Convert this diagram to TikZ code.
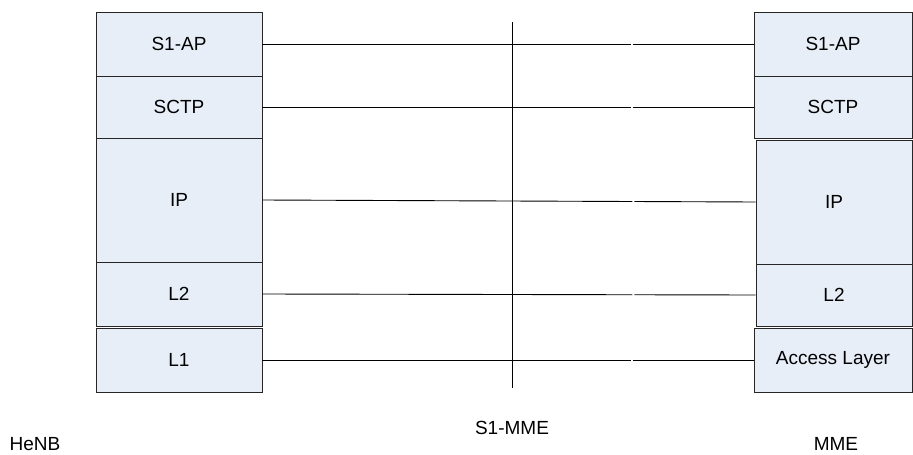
\documentclass[tikz,border=0pt]{standalone}
\usepackage{fontspec}
\setmainfont{Liberation Sans}
\usetikzlibrary{calc}
\definecolor{layerfill}{HTML}{E8EEF8}
\tikzset{
  layer/.style={draw=black!85,fill=layerfill,line width=0.9pt,inner sep=0pt,
    font=\fontsize{19}{22}\selectfont},
  peer/.style={line width=0.9pt},
  side/.style={font=\fontsize{19}{22}\selectfont}
}
\begin{document}
\begin{tikzpicture}[x=1pt,y=-1pt]
   \useasboundingbox (0,0) rectangle (913,455);
   % HeNB stack
   \node[layer,minimum width=166pt,minimum height=64pt] (lap) at (179,44) {S1-AP};
   \node[layer,minimum width=166pt,minimum height=62pt] (lsctp) at (179,107) {SCTP};
   \node[layer,minimum width=166pt,minimum height=124pt] (lip) at (179,200) {IP};
   \node[layer,minimum width=166pt,minimum height=64pt] (ll2) at (179,294) {L2};
   \node[layer,minimum width=166pt,minimum height=64pt] (ll1) at (179,360) {L1};
   % MME stack
   \node[layer,minimum width=158pt,minimum height=64pt] (rap) at (833,44) {S1-AP};
   \node[layer,minimum width=158pt,minimum height=62pt] (rsctp) at (833,107) {SCTP};
   \node[layer,minimum width=156pt,minimum height=124pt] (rip) at (834,202) {IP};
   \node[layer,minimum width=156pt,minimum height=62pt] (rl2) at (834,295) {L2};
   \node[layer,minimum width=158pt,minimum height=64pt] (racc) at (833,360) {Access Layer};
   % peer lines
   \draw[peer] (lap.east) -- ($(lap.east)!.75!(rap.west)$)
      ($(lap.east)!.754!(rap.west)$) -- (rap.west);
   \draw[peer] (lsctp.east) -- ($(lsctp.east)!.75!(rsctp.west)$)
      ($(lsctp.east)!.754!(rsctp.west)$) -- (rsctp.west);
   \draw[peer] (lip.east) -- ($(lip.east)!.75!(rip.west)$)
      ($(lip.east)!.754!(rip.west)$) -- (rip.west);
   \draw[peer] (ll2.east) -- ($(ll2.east)!.75!(rl2.west)$)
      ($(ll2.east)!.754!(rl2.west)$) -- (rl2.west);
   \draw[peer] (ll1.east) -- ($(ll1.east)!.75!(racc.west)$)
      ($(ll1.east)!.754!(racc.west)$) -- (racc.west);
   % reference point
   \coordinate (itop) at (512,22);
   \coordinate (ibot) at (512,388);
   \draw[peer] (itop) -- (ibot);
   \node[side] (henb) at (35,444) {HeNB};
   \node[side] (s1mme) at (512,428) {S1-MME};
   \node[side] (mme) at (836,444) {MME};
\end{tikzpicture}
\end{document}
